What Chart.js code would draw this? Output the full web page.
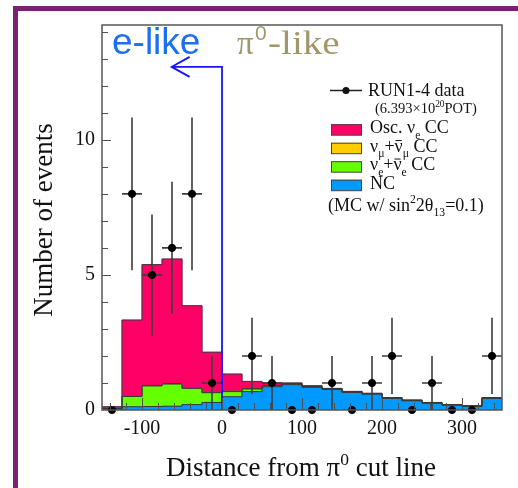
<!DOCTYPE html>
<html>
<head>
<meta charset="utf-8">
<script src="https://cdn.jsdelivr.net/npm/chart.js@4.4.0/dist/chart.umd.min.js"></script>
<style>
    html, body { margin: 0; padding: 0; background: #fff; overflow: hidden; }
    #moldura { position: absolute; left: 13px; top: 6px; width: 500px; height: 477px; border-left: 5px solid #7d1e78; border-top: 5px solid #7d1e78; }
    #grafico { position: absolute; left: 0; top: 0; }
</style>
</head>
<body>
<div id="moldura"></div>
<canvas id="grafico" width="518" height="488"></canvas>
<script>
// Centros dos bins (largura de 25)
var centrosBins = [-137.5, -112.5, -87.5, -62.5, -37.5, -12.5, 12.5, 37.5, 62.5, 87.5,
    112.5, 137.5, 162.5, 187.5, 212.5, 237.5, 262.5, 287.5, 312.5, 337.5];
var larguraBin = 25;

// Componentes do MC (empilhados de baixo para cima)
var nc       = [0.03, 0.12, 0.13, 0.14, 0.20, 0.28, 0.49, 0.68, 0.86, 0.94, 0.84, 0.76, 0.65, 0.59, 0.43, 0.34, 0.25, 0.18, 0.13, 0.43];
var nueCC    = [0.02, 0.38, 0.76, 0.82, 0.60, 0.36, 0.19, 0.10, 0.04, 0.03, 0.02, 0.02, 0.02, 0.01, 0.01, 0.01, 0.01, 0.01, 0.01, 0.01];
var numuCC   = [0.00, 0.01, 0.02, 0.02, 0.02, 0.02, 0.02, 0.01, 0.01, 0.01, 0.01, 0.01, 0.01, 0.01, 0.01, 0.01, 0.01, 0.01, 0.01, 0.01];
var oscNueCC = [0.07, 2.82, 4.47, 4.61, 3.04, 1.48, 0.63, 0.27, 0.09, 0.02, 0.03, 0.01, 0.01, 0.01, 0.01, 0.01, 0.01, 0.00, 0.01, 0.01];

// Dados RUN1-4 e erros
var dadosRun = [0, 8, 5, 6, 8, 1, 0, 2, 1, 0, 0, 1, 0, 1, 2, 0, 1, 0, 0, 2];
var errosRun = [0, 2.83, 2.24, 2.45, 2.83, 1, 0, 1.41, 1, 0, 0, 1, 0, 1, 1.41, 0, 1, 0, 0, 1.41];

// Eixos
var ticksX = [-100, 0, 100, 200, 300];
var ticksY = [0, 5, 10];
var limitesX = [-150, 350];
var limitesY = [0, 14.25];
var passoMenorX = 20;
var passoMenorY = 1;

// Linha de corte e seta
var corteX = 0;
var setaY = 12.7;
var setaPontaX = -63;

var cores = { osc: '#ff0066', numu: '#ffcc00', nue: '#66ff00', nc: '#0099ff' };
var serifa = '"Liberation Serif", "Times New Roman", serif';

function pares(valores) {
    return centrosBins.map(function (x, i) { return { x: x, y: valores[i] }; });
}

function somar(listas) {
    return centrosBins.map(function (_, i) {
        return listas.reduce(function (s, l) { return s + l[i]; }, 0);
    });
}

// Contorno em degraus do histograma
function criarDegraus(valores) {
    var pontos = [];
    for (var i = 0; i < valores.length; i++) {
        pontos.push({ x: centrosBins[i] - larguraBin / 2, y: valores[i] });
    }
    pontos.push({ x: centrosBins[valores.length - 1] + larguraBin / 2, y: valores[valores.length - 1] });
    return pontos;
}

function contorno(valores) {
    return {
        type: 'line', data: criarDegraus(valores), stepped: 'before',
        borderColor: '#3a3a3a', borderWidth: 1, pointRadius: 0, fill: false, order: 2
    };
}

// Texto com sub/sobrescritos
function escreverTrechos(ctx, x, y, trechos, tamanho) {
    trechos.forEach(function (t) {
        var menor = t.sub || t.sup;
        var tam = menor ? tamanho * 0.65 : tamanho;
        ctx.font = tam + 'px ' + serifa;
        var dy = t.sub ? tamanho * 0.3 : (t.sup ? -tamanho * 0.42 : 0);
        ctx.fillText(t.txt, x, y + dy);
        var w = ctx.measureText(t.txt).width;
        if (t.barra) {
            ctx.save();
            ctx.lineWidth = 1;
            ctx.beginPath();
            ctx.moveTo(x + 1, y - tamanho * 0.62);
            ctx.lineTo(x + w - 1, y - tamanho * 0.62);
            ctx.stroke();
            ctx.restore();
        }
        x += w;
    });
    return x;
}

function larguraTrechos(ctx, trechos, tamanho) {
    var w = 0;
    trechos.forEach(function (t) {
        ctx.font = ((t.sub || t.sup) ? tamanho * 0.65 : tamanho) + 'px ' + serifa;
        w += ctx.measureText(t.txt).width;
    });
    return w;
}

function desenharBarrasErro(chart) {
    var ctx = chart.ctx, sx = chart.scales.x, sy = chart.scales.y;
    ctx.save();
    ctx.strokeStyle = '#3c3c3c';
    ctx.lineWidth = 1.6;
    ctx.beginPath();
    for (var i = 0; i < dadosRun.length; i++) {
        if (errosRun[i] === 0) continue;
        var px = sx.getPixelForValue(centrosBins[i]);
        var py = sy.getPixelForValue(dadosRun[i]);
        ctx.moveTo(sx.getPixelForValue(centrosBins[i] - larguraBin / 2), py);
        ctx.lineTo(sx.getPixelForValue(centrosBins[i] + larguraBin / 2), py);
        ctx.moveTo(px, sy.getPixelForValue(dadosRun[i] - errosRun[i]));
        ctx.lineTo(px, sy.getPixelForValue(dadosRun[i] + errosRun[i]));
    }
    ctx.stroke();
    ctx.restore();
}

function desenharCorte(chart) {
    var ctx = chart.ctx, sx = chart.scales.x, sy = chart.scales.y;
    var x0 = sx.getPixelForValue(corteX), yTopo = sy.getPixelForValue(setaY);
    var xPonta = sx.getPixelForValue(setaPontaX);
    ctx.save();
    ctx.strokeStyle = '#1414ff';
    ctx.lineWidth = 1.8;
    ctx.beginPath();
    ctx.moveTo(x0, sy.getPixelForValue(0));
    ctx.lineTo(x0, yTopo);
    ctx.lineTo(xPonta, yTopo);
    ctx.moveTo(xPonta + 18, yTopo - 10);
    ctx.lineTo(xPonta, yTopo);
    ctx.lineTo(xPonta + 18, yTopo + 10);
    ctx.stroke();
    ctx.restore();
}

function desenharMarcas(chart) {
    var ctx = chart.ctx, a = chart.chartArea, sx = chart.scales.x, sy = chart.scales.y;
    ctx.save();
    ctx.strokeStyle = '#505050';
    ctx.lineWidth = 1;
    ctx.beginPath();
    for (var v = limitesX[0] + 10; v < limitesX[1]; v += passoMenorX) {
        var px = Math.round(sx.getPixelForValue(v)) + 0.5;
        var lx = ticksX.indexOf(v) >= 0 ? 12 : 7;
        ctx.moveTo(px, a.bottom);
        ctx.lineTo(px, a.bottom - lx);
    }
    for (var w = passoMenorY; w < limitesY[1]; w += passoMenorY) {
        var py = Math.round(sy.getPixelForValue(w)) + 0.5;
        var ly = ticksY.indexOf(w) >= 0 ? 9 : 6;
        ctx.moveTo(a.left, py);
        ctx.lineTo(a.left + ly, py);
    }
    ctx.stroke();
    ctx.lineWidth = 1.5;
    ctx.strokeStyle = '#555';
    ctx.strokeRect(a.left, a.top, a.right - a.left, a.bottom - a.top);
    ctx.restore();
}

function desenharTextos(chart) {
    var ctx = chart.ctx;
    ctx.save();
    ctx.textBaseline = 'alphabetic';
    ctx.textAlign = 'left';

    // e-like / pi0-like
    ctx.fillStyle = '#1a70f0';
    ctx.font = '37px "Liberation Sans", Arial, sans-serif';
    ctx.fillText('e-like', 112, 54);

    ctx.fillStyle = '#a0986c';
    ctx.font = '33px ' + serifa;
    ctx.fillText('\u03c0', 237, 54);
    ctx.font = '21px "Liberation Sans", Arial, sans-serif';
    ctx.fillText('0', 255, 40);
    ctx.save();
    ctx.translate(268, 54);
    ctx.scale(1.15, 1);
    ctx.font = '34px ' + serifa;
    ctx.fillText('-like', 0, 0);
    ctx.restore();

    // Títulos dos eixos
    ctx.fillStyle = '#111';
    ctx.save();
    ctx.translate(52, 220);
    ctx.rotate(-Math.PI / 2);
    ctx.textAlign = 'center';
    ctx.font = '27px ' + serifa;
    ctx.fillText('Number of events', 0, 0);
    ctx.restore();

    var tituloX = [{ txt: 'Distance from \u03c0' }, { txt: '0', sup: true }, { txt: ' cut line' }];
    var wt = larguraTrechos(ctx, tituloX, 27);
    escreverTrechos(ctx, 301 - wt / 2, 476, tituloX, 27);
    ctx.restore();
}

function desenharLegenda(chart) {
    var ctx = chart.ctx;
    ctx.save();
    ctx.fillStyle = '#111';
    ctx.textBaseline = 'alphabetic';
    ctx.textAlign = 'left';

    // Marcador dos dados
    ctx.strokeStyle = '#222';
    ctx.lineWidth = 1.5;
    ctx.beginPath();
    ctx.moveTo(330, 90.5);
    ctx.lineTo(362, 90.5);
    ctx.stroke();
    ctx.beginPath();
    ctx.arc(346, 90.5, 3.5, 0, Math.PI * 2);
    ctx.fill();

    escreverTrechos(ctx, 368, 95.5, [{ txt: 'RUN1-4 data' }], 18);
    escreverTrechos(ctx, 375, 113, [{ txt: '(6.393\u00d710' }, { txt: '20', sup: true }, { txt: 'POT)' }], 14.5);

    var entradas = [
        { cor: cores.osc, trechos: [{ txt: 'Osc. \u03bd' }, { txt: 'e', sub: true }, { txt: ' CC' }] },
        { cor: cores.numu, trechos: [{ txt: '\u03bd' }, { txt: '\u03bc', sub: true }, { txt: '+' }, { txt: '\u03bd', barra: true }, { txt: '\u03bc', sub: true }, { txt: ' CC' }] },
        { cor: cores.nue, trechos: [{ txt: '\u03bd' }, { txt: 'e', sub: true }, { txt: '+' }, { txt: '\u03bd', barra: true }, { txt: 'e', sub: true }, { txt: ' CC' }] },
        { cor: cores.nc, trechos: [{ txt: 'NC' }] }
    ];
    entradas.forEach(function (e, i) {
        var yc = 129.7 + i * 18.5;
        ctx.fillStyle = e.cor;
        ctx.fillRect(331, yc - 5.5, 31, 11);
        ctx.strokeStyle = '#444';
        ctx.lineWidth = 1;
        ctx.strokeRect(331.5, yc - 5, 30, 10.5);
        ctx.fillStyle = '#111';
        ctx.strokeStyle = '#111';
        escreverTrechos(ctx, 370, yc + 3.5, e.trechos, 18);
    });

    escreverTrechos(ctx, 328, 211, [{ txt: '(MC w/ sin' }, { txt: '2', sup: true }, { txt: '2\u03b8' },
        { txt: '13', sub: true }, { txt: '=0.1)' }], 18);
    ctx.restore();
}

var pluginDesenho = {
    id: 'desenhoRoot',
    beforeDatasetDraw: function (chart, args) {
        if (args.index === 8) desenharBarrasErro(chart);
    },
    afterDatasetsDraw: function (chart) {
        desenharCorte(chart);
        desenharMarcas(chart);
    },
    afterDraw: function (chart) {
        desenharTextos(chart);
        desenharLegenda(chart);
    }
};

var ctx = document.getElementById('grafico').getContext('2d');

var grafico = new Chart(ctx, {
    type: 'bar',
    data: {
        datasets: [
            { label: 'NC', data: pares(nc), backgroundColor: cores.nc, stack: 'mc', order: 3, borderWidth: 0 },
            { label: 'nue CC', data: pares(nueCC), backgroundColor: cores.nue, stack: 'mc', order: 3, borderWidth: 0 },
            { label: 'numu CC', data: pares(numuCC), backgroundColor: cores.numu, stack: 'mc', order: 3, borderWidth: 0 },
            { label: 'Osc. nue CC', data: pares(oscNueCC), backgroundColor: cores.osc, stack: 'mc', order: 3, borderWidth: 0 },
            contorno(nc),
            contorno(somar([nc, nueCC])),
            contorno(somar([nc, nueCC, numuCC])),
            contorno(somar([nc, nueCC, numuCC, oscNueCC])),
            {
                type: 'scatter', label: 'RUN1-4 data', data: pares(dadosRun),
                pointRadius: 3.6, pointBackgroundColor: '#000', pointBorderColor: '#000',
                clip: false, order: 1
            }
        ]
    },
    options: {
        responsive: false,
        animation: false,
        layout: { padding: { top: 25, right: 16, left: 0, bottom: 0 } },
        plugins: { legend: { display: false }, tooltip: { enabled: false } },
        barPercentage: 1,
        categoryPercentage: 1,
        scales: {
            x: {
                type: 'linear', min: limitesX[0], max: limitesX[1], offset: false,
                grid: { display: false, drawTicks: false },
                border: { display: false },
                afterBuildTicks: function (s) { s.ticks = ticksX.map(function (v) { return { value: v }; }); },
                afterFit: function (s) { s.height = 78; },
                ticks: {
                    padding: 7, color: '#111', maxRotation: 0, autoSkip: false,
                    font: { family: serifa, size: 20 },
                    callback: function (v) { return String(v); }
                }
            },
            y: {
                min: limitesY[0], max: limitesY[1],
                grid: { display: false, drawTicks: false },
                border: { display: false },
                afterBuildTicks: function (s) { s.ticks = ticksY.map(function (v) { return { value: v }; }); },
                afterFit: function (s) { s.width = 102; },
                ticks: {
                    padding: 7, color: '#111',
                    font: { family: serifa, size: 20 },
                    callback: function (v) { return String(v); }
                }
            }
        }
    },
    plugins: [pluginDesenho]
});
</script>
</body>
</html>
